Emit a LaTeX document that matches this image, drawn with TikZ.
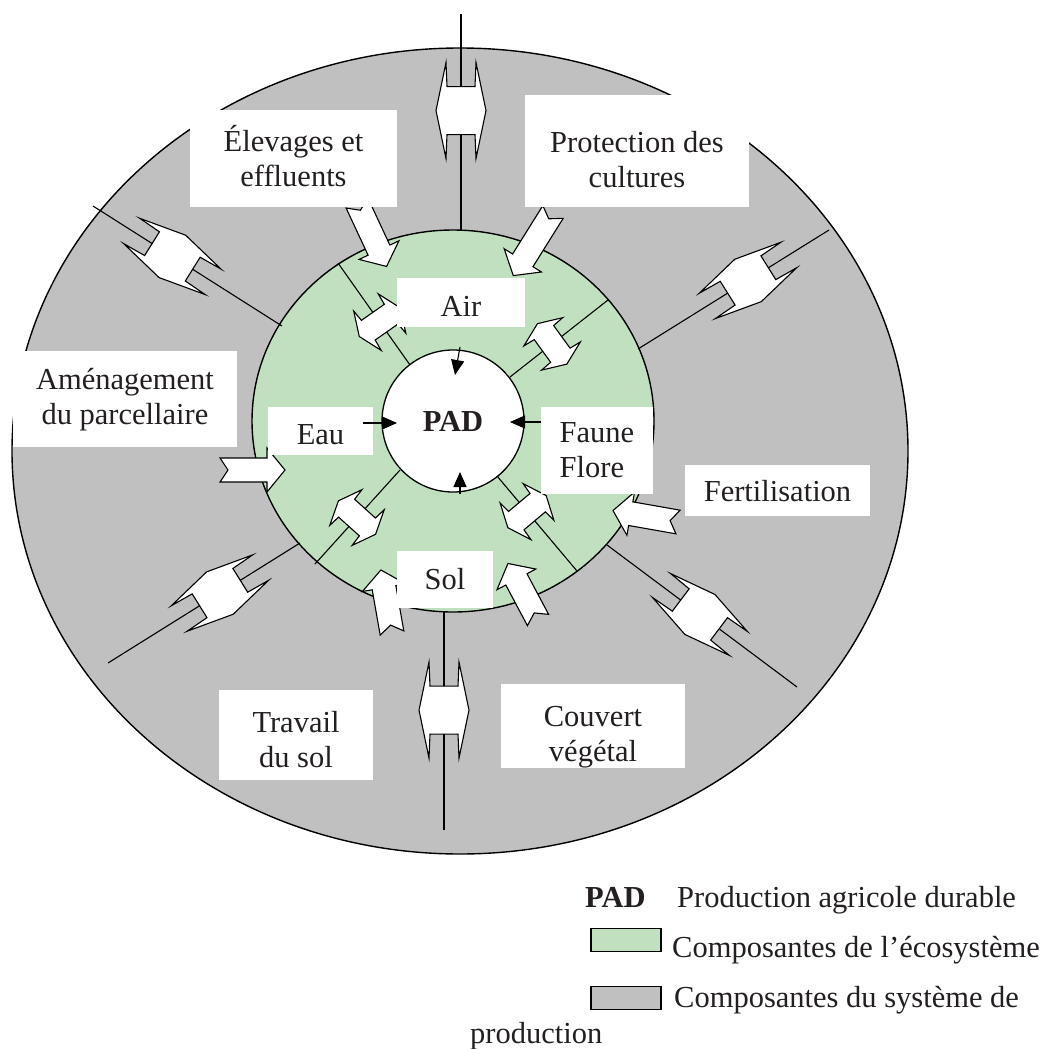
\documentclass[tikz,border=0pt]{standalone}
\usepackage{fontspec}
\setmainfont{Liberation Serif}
\usetikzlibrary{arrows.meta,calc,shapes.geometric}
\definecolor{eco}{RGB}{192,224,192}
\definecolor{sys}{RGB}{192,192,192}
\definecolor{txt}{RGB}{35,31,32}
\tikzset{
  dbl/.pic={\draw[fill=white, line width=1.1pt]
    (-48,15) -- (0,25) -- (48,15) -- (24,14) -- (24,-14) -- (48,-15) -- (0,-25) -- (-48,-15) -- (-24,-14) -- (-24,14) -- cycle;},
  dblsmall/.pic={\draw[fill=white, line width=1.1pt]
    (-24,15) -- (0,25) -- (24,15) -- (12,14) -- (12,-14) -- (24,-15) -- (0,-25) -- (-24,-15) -- (-12,-14) -- (-12,14) -- cycle;},
  notcharrow/.pic={\draw[fill=white, line width=1.1pt]
    (0,12) -- (#1-18,12) -- (#1-18,22) -- (#1,0) -- (#1-18,-22) -- (#1-18,-12) -- (0,-12) -- (8,0) -- cycle;},
  lblbox/.style={fill=white, inner sep=0pt, outer sep=0pt},
  lbltxt/.style={inner sep=0pt, align=center, text=txt, font=\fontsize{30.5}{35}\selectfont},
  legtxt/.style={inner sep=0pt, anchor=base west, text=txt, font=\fontsize{30.5}{35}\selectfont},
  conn/.style={line width=1.1pt},
  smallarr/.style={line width=1.1pt, -{Triangle[length=15pt,width=13pt]}},
}
\begin{document}
\begin{tikzpicture}[x=1pt,y=-1pt]
\useasboundingbox (0,0) rectangle (1045,1049);
% rings
\node[ellipse, draw, fill=sys, minimum width=896pt, minimum height=806pt, inner sep=0pt, line width=1.4pt] (sysell) at (460,451) {};
\node[ellipse, draw, fill=eco, minimum width=402pt, minimum height=382pt, inner sep=0pt, line width=1.4pt] (ecoell) at (453,421) {};
\node[circle, draw, fill=white, minimum size=142pt, inner sep=0pt, line width=1.3pt, text=txt,
      font=\fontsize{30.5}{36}\selectfont\bfseries] (pad) at (453,421) {PAD};
% outer connectors
\coordinate (tA1) at (461,14);   \coordinate (tA2) at (461,230);
\coordinate (ulA1) at (93,206);  \coordinate (ulA2) at (282,326);
\coordinate (urA1) at (829,230); \coordinate (urA2) at (638,349);
\coordinate (llA1) at (108,663); \coordinate (llA2) at (300,543);
\coordinate (lrA1) at (797,687); \coordinate (lrA2) at (607,545);
\coordinate (bA1) at (444,830);  \coordinate (bA2) at (444,612);
% inner connectors
\coordinate (i1a) at (338,263); \coordinate (i1b) at (410,365);
\coordinate (i2a) at (608,300); \coordinate (i2b) at (510,377);
\coordinate (i3a) at (315,564); \coordinate (i3b) at (400,470);
\coordinate (i4a) at (577,571); \coordinate (i4b) at (497,476);
\foreach \a/\b in {tA1/tA2, ulA1/ulA2, urA1/urA2, llA1/llA2, lrA1/lrA2, bA1/bA2, i1a/i1b, i2a/i2b, i3a/i3b, i4a/i4b}
  \draw[conn] (\a) -- (\b);
% double arrows
\pic[rotate=90]  at ($(tA1)!0.447!(tA2)$) {dbl};
\pic[rotate=-32] at ($(ulA1)!0.42!(ulA2)$) {dbl};
\pic[rotate=32]  at ($(urA1)!0.424!(urA2)$) {dbl};
\pic[rotate=32]  at ($(llA1)!0.583!(llA2)$) {dbl};
\pic[rotate=-37] at ($(lrA2)!0.489!(lrA1)$) {dbl};
\pic[rotate=90]  at ($(bA1)!0.55!(bA2)$) {dbl};
\pic[rotate=-55] at ($(i1a)!0.58!(i1b)$) {dblsmall};
\pic[rotate=36]  at ($(i2b)!0.43!(i2a)$) {dblsmall};
\pic[rotate=48]  at ($(i3b)!0.506!(i3a)$) {dblsmall};
\pic[rotate=-50] at ($(i4b)!0.375!(i4a)$) {dblsmall};
% inbound notched arrows
\pic[rotate=-65]  at (357,203) {notcharrow=70};
\pic[rotate=-122] at (553,212) {notcharrow=75};
\pic[rotate=0]    at (220,470) {notcharrow=65};
\pic[rotate=170]  at (678,522) {notcharrow=66};
\pic[rotate=100]  at (392,633) {notcharrow=64};
\pic[rotate=118]  at (538,620) {notcharrow=64};
% label boxes
\node[lblbox, minimum width=207pt, minimum height=97pt]  (elevbox)  at (293.5,158.5) {};
\node[lblbox, minimum width=224pt, minimum height=112pt] (protbox)  at (637,151)     {};
\node[lblbox, minimum width=128pt, minimum height=49pt]  (airbox)   at (461,302.5)   {};
\node[lblbox, minimum width=224pt, minimum height=96pt]  (amenbox)  at (125,399)     {};
\node[lblbox, minimum width=105pt, minimum height=48pt]  (eaubox)   at (320.5,431)   {};
\node[lblbox, minimum width=112pt, minimum height=87pt]  (faunebox) at (597,450.5)   {};
\node[lblbox, minimum width=185pt, minimum height=51pt]  (fertbox)  at (777.5,490.5) {};
\node[lblbox, minimum width=96pt,  minimum height=57pt]  (solbox)   at (445,579.5)   {};
\node[lblbox, minimum width=154pt, minimum height=90pt]  (travbox)  at (296,735)     {};
\node[lblbox, minimum width=184pt, minimum height=84pt]  (couvbox)  at (593,726)     {};
\node[lbltxt] (elev)  at (293.5,156) {Élevages et\\effluents};
\node[lbltxt] (prot)  at (637,160)   {Protection des\\cultures};
\node[lbltxt] (air)   at (461,306.5) {Air};
\node[lbltxt] (amen)  at (125,400)   {Aménagement\\du parcellaire};
\node[lbltxt] (eau)   at (320.5,435) {Eau};
\node[lbltxt, align=left] (faune) at (597,450.5) {Faune\\Flore};
\node[lbltxt] (fert)  at (777.5,491) {Fertilisation};
\node[lbltxt] (sol)   at (445,579)   {Sol};
\node[lbltxt] (trav)  at (296,740)   {Travail\\du sol};
\node[lbltxt] (couv)  at (593,737)   {Couvert\\végétal};
% arrows into PAD
\coordinate (airS) at (460,347); \coordinate (airT) at (455,375);
\coordinate (eauS) at (363,423); \coordinate (eauT) at (397,423);
\coordinate (fauS) at (541,422); \coordinate (fauT) at (510,422);
\coordinate (solS) at (460,494); \coordinate (solT) at (460,472);
\draw[smallarr] (airS) -- (airT);
\draw[smallarr] (eauS) -- (eauT);
\draw[smallarr] (fauS) -- (fauT);
\draw[smallarr] (solS) -- (solT);
% legend
\node[legtxt, font=\fontsize{30.5}{35}\selectfont\bfseries] (legpad) at (585,907) {PAD};
\node[legtxt] (legpadtxt) at (677,907) {Production agricole durable};
\node[draw, fill=eco, line width=1.3pt, minimum width=70pt, minimum height=23pt, inner sep=0pt] (legeco) at (626,940) {};
\node[legtxt] (legecotxt) at (672,957) {Composantes de l’écosystème};
\node[draw, fill=sys, line width=1.3pt, minimum width=70pt, minimum height=23pt, inner sep=0pt] (legsys) at (626,998) {};
\node[legtxt] (legsystxt) at (674,1007) {Composantes du système de};
\node[legtxt] (legsystxt2) at (470,1043) {production};
\end{tikzpicture}
\end{document}
